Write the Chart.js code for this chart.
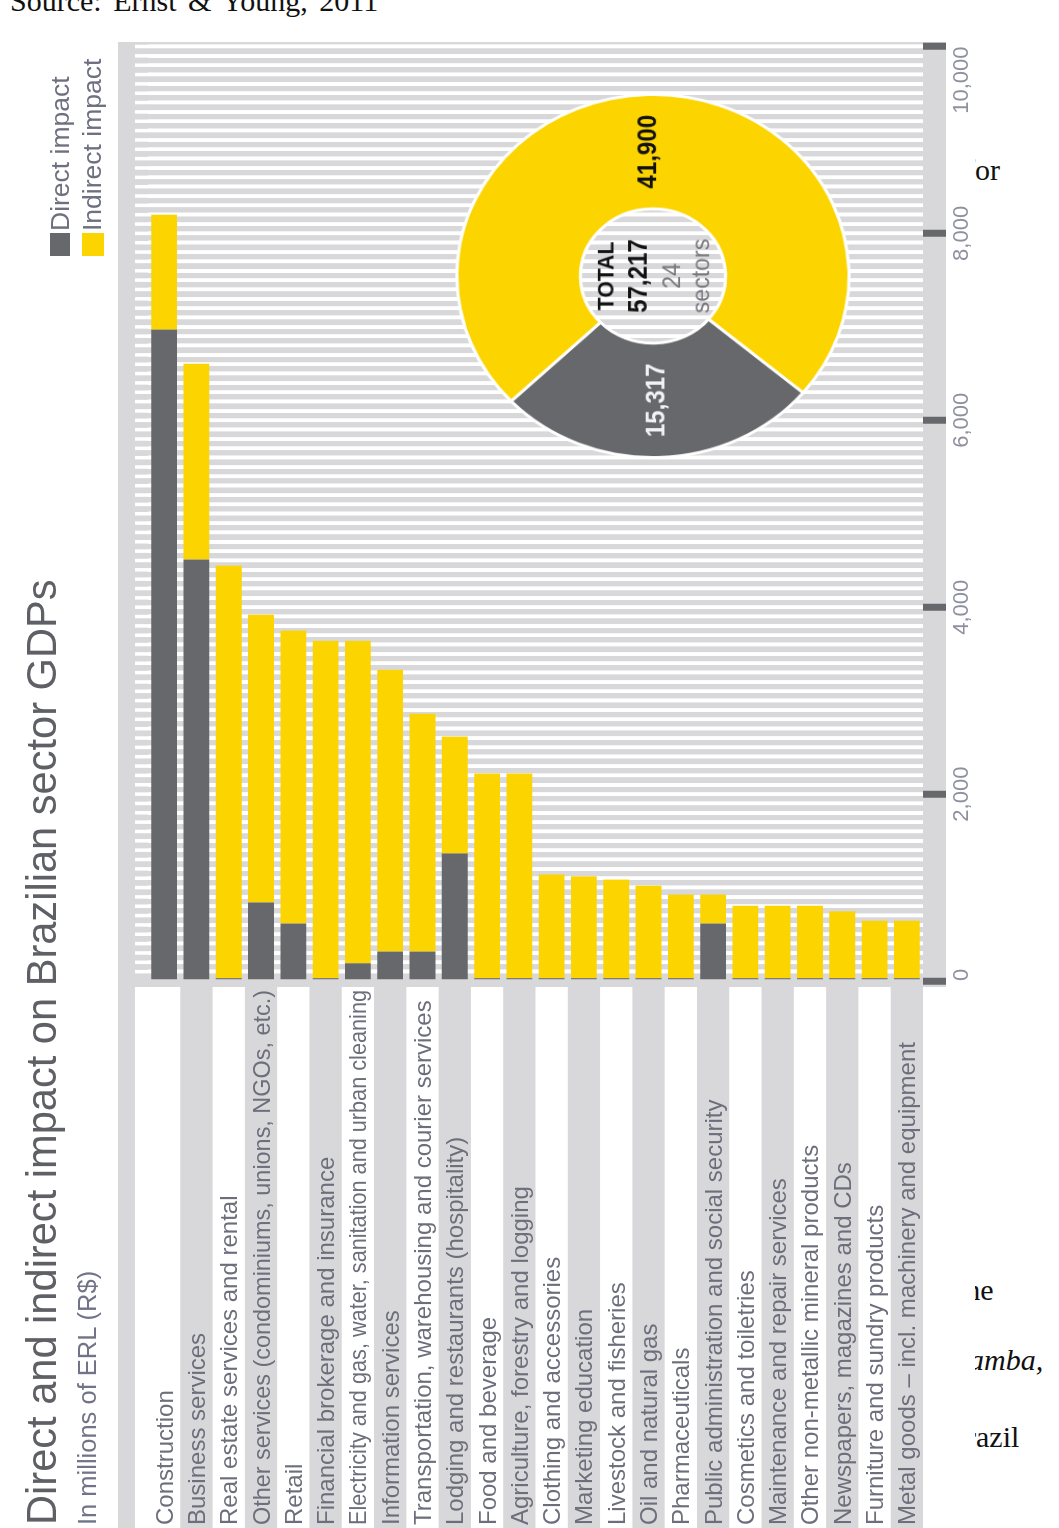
<!DOCTYPE html>
<html>
<head>
<meta charset="utf-8">
<script src="https://cdn.jsdelivr.net/npm/chart.js"></script>
<style>
  html, body { margin: 0; padding: 0; background: #fff; }
  body { width: 1059px; height: 1528px; overflow: hidden; position: relative; }
  .page { position: absolute; font-family: "Liberation Serif", serif; font-size: 30px; line-height: 1; color: #111; white-space: nowrap; }
  /* the whole figure is laid out lying on its side, then turned a quarter turn */
  #panel { position: absolute; left: 0; top: 1528px; width: 1488px; height: 975px; background: #fff;
           transform-origin: 0 0; transform: rotate(-90deg); }
  #bars { position: absolute; left: 0; top: 0; }
  .t { position: absolute; font-family: "Liberation Sans", Arial, sans-serif; line-height: 1; white-space: nowrap; }
  .key { position: absolute; width: 23px; }
  #donutWrap { position: absolute; left: 1062px; top: 462.5px; width: 380px; height: 380px;
               transform: scale(0.963, 1.04); transform-origin: 50% 50%; }
</style>
</head>
<body>
<div class="page" style="left:10px; top:-14px; word-spacing:4px">Source: Ernst &amp; Young, 2011</div>
<div class="page" style="left:965px; top:155px">for</div>
<div class="page" style="left:957px; top:1275px">the</div>
<div class="page" style="left:954px; top:1345px; font-style:italic">Samba,</div>
<div class="page" style="left:946px; top:1422px">Brazil</div>

<div id="panel">
  <canvas id="bars" width="1488" height="975"></canvas>
  <div class="t" style="left:3px; top:21px; font-size:41.6px; color:#5f6065">Direct and indirect impact on Brazilian sector GDPs</div>
  <div class="t" style="left:3px; top:75px; font-size:25.5px; color:#717488">In millions of ERL (R$)</div>
  <div class="key" style="left:1272px; top:50px; height:20px; background:#67686c"></div>
  <div class="t" style="left:1297px; top:47px; font-size:26.5px; color:#6e7080">Direct impact</div>
  <div class="key" style="left:1272px; top:82px; height:22px; background:#fcd400"></div>
  <div class="t" style="left:1297px; top:79px; font-size:26.5px; color:#6e7080">Indirect impact</div>
  <div id="donutWrap"><canvas id="donut" width="380" height="380"></canvas></div>
</div>

<script>
const sectors = [
  "Construction",
  "Business services",
  "Real estate services and rental",
  "Other services (condominiums, unions, NGOs, etc.)",
  "Retail",
  "Financial brokerage and insurance",
  "Electricity and gas, water, sanitation and urban cleaning",
  "Information services",
  "Transportation, warehousing and courier services",
  "Lodging and restaurants (hospitality)",
  "Food and beverage",
  "Agriculture, forestry and logging",
  "Clothing and accessories",
  "Marketing education",
  "Livestock and fisheries",
  "Oil and natural gas",
  "Pharmaceuticals",
  "Public administration and social security",
  "Cosmetics and toiletries",
  "Maintenance and repair services",
  "Other non-metallic mineral products",
  "Newspapers, magazines and CDs",
  "Furniture and sundry products",
  "Metal goods – incl. machinery and equipment"
]

// millions of R$
const directImpact = [6970, 4510, 30, 840, 615, 30, 190, 315, 315, 1365, 30, 30,
                      30, 30, 30, 30, 30, 615, 30, 30, 30, 30, 30, 30]
const indirectImpact = [1230, 2095, 4415, 3080, 3135, 3610, 3450, 3015, 2545, 1250, 2190, 2190,
                        1110, 1090, 1055, 990, 895, 310, 775, 775, 775, 715, 615, 615]

const valueTicks = [0, 2000, 4000, 6000, 8000, 10000]

const impactLabels = ["Direct impact", "Indirect impact"]
const impactTotals = [15317, 41900]
const totalImpact = 57217
const sectorCount = 24

const DARK = "#67686c"
const YELLOW = "#fcd400"
const PANEL = "#d8d8da"

// grey panel, label stripes, sector names
const panelPlugin = {
  id: "panel",
  beforeDraw(chart) {
    const { ctx, chartArea, scales: { x, y } } = chart
    const half = (y.getPixelForValue(1) - y.getPixelForValue(0)) / 2
    const labelEnd = chartArea.left - 6
    const right = chartArea.right + 4.5

    ctx.save()
    ctx.fillStyle = PANEL
    ctx.fillRect(0, 118, right, chartArea.bottom - 118)
    ctx.fillRect(labelEnd, chartArea.bottom, right - labelEnd, 23)

    ctx.fillStyle = "#fff"
    sectors.forEach((s, i) => {
      if (i % 2) return
      const c = y.getPixelForValue(i)
      const top = i === 0 ? 135 : c - half
      ctx.fillRect(0, top, labelEnd, c + half - top)
    })

    // value lines run across the full panel
    x.ticks.forEach((t) => {
      if (t.value <= 0) return
      const px = x.getPixelForValue(t.value)
      ctx.fillRect(px - 1.75, 135, 3.5, chartArea.bottom - 135)
    })

    ctx.fillStyle = "#6d6e7c"
    ctx.font = '24px "Liberation Sans"'
    ctx.textBaseline = "alphabetic"
    sectors.forEach((s, i) => {
      ctx.fillText(s, 3, y.getPixelForValue(i) + 8.5, 535)
    })
    ctx.restore()
  }
}

new Chart(document.getElementById("bars"), {
  type: "bar",
  data: {
    labels: sectors,
    datasets: [
      { label: impactLabels[0], data: directImpact, backgroundColor: DARK },
      { label: impactLabels[1], data: indirectImpact, backgroundColor: YELLOW }
    ]
  },
  options: {
    indexAxis: "y",
    responsive: false,
    animation: false,
    events: [],
    layout: { padding: { top: 148, right: 6.5, left: 0, bottom: 0 } },
    datasets: { bar: { barPercentage: 0.8, categoryPercentage: 1, borderWidth: 0 } },
    plugins: { legend: { display: false }, tooltip: { enabled: false } },
    scales: {
      x: {
        stacked: true,
        min: 0,
        max: 10000,
        border: { display: false },
        grid: {
          color: (c) => (c.tick && c.tick.value > 0 ? "#fff" : "rgba(0,0,0,0)"),
          lineWidth: 3.5,
          tickLength: 23,
          tickWidth: 7,
          tickColor: (c) => (c.tick && valueTicks.includes(c.tick.value) ? DARK : "rgba(0,0,0,0)")
        },
        ticks: {
          stepSize: 100,
          autoSkip: false,
          maxRotation: 0,
          align: "inner",
          padding: 3,
          color: "#8e90a0",
          font: { family: "Liberation Sans", size: 22 },
          callback: (v) => (valueTicks.includes(v) ? v.toLocaleString("en-US") : "")
        },
        afterFit: (s) => { s.height = 52 }
      },
      y: {
        stacked: true,
        grid: { display: false },
        border: { display: false },
        ticks: { display: false },
        afterFit: (s) => { s.width = 547 }
      }
    }
  },
  plugins: [panelPlugin]
})

// totals printed on the ring and in its hole
const donutText = {
  id: "donutText",
  afterDraw(chart) {
    const { ctx } = chart
    const arcs = chart.getDatasetMeta(0).data
    const cx = arcs[0].x
    const cy = arcs[0].y
    ctx.save()
    ctx.textAlign = "center"
    ctx.textBaseline = "middle"
    ctx.font = 'bold 25px "Liberation Sans"'
    arcs.forEach((arc, i) => {
      const p = arc.tooltipPosition()
      ctx.fillStyle = i === 0 ? "#f2f2f6" : "#111"
      ctx.fillText(impactTotals[i].toLocaleString("en-US"), p.x, p.y)
    })
    ctx.textBaseline = "alphabetic"
    ctx.fillStyle = "#111"
    ctx.font = 'bold 22px "Liberation Sans"'
    ctx.fillText("TOTAL", cx, cy - 38)
    ctx.font = 'bold 25px "Liberation Sans"'
    ctx.fillText(totalImpact.toLocaleString("en-US"), cx, cy - 6)
    ctx.fillStyle = "#77777d"
    ctx.font = '24px "Liberation Sans"'
    ctx.fillText(String(sectorCount), cx, cy + 25.5)
    ctx.fillText("sectors", cx, cy + 54)
    ctx.restore()
  }
}

new Chart(document.getElementById("donut"), {
  type: "doughnut",
  data: {
    labels: impactLabels,
    datasets: [{
      data: impactTotals,
      backgroundColor: [DARK, YELLOW],
      borderColor: "#fff",
      borderWidth: 3
    }]
  },
  options: {
    responsive: false,
    animation: false,
    events: [],
    cutout: "37%",
    rotation: 220,
    plugins: { legend: { display: false }, tooltip: { enabled: false } }
  },
  plugins: [donutText]
})
</script>
</body>
</html>
